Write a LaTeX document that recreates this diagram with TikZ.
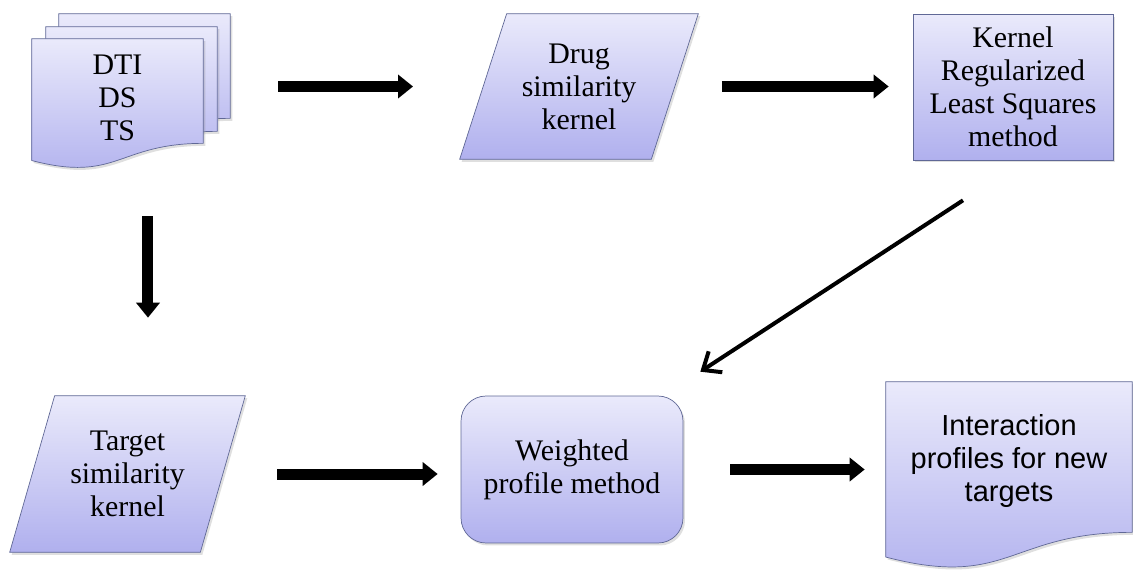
\documentclass[tikz,border=0pt]{standalone}
\usepackage{fontspec}
\setmainfont{Liberation Serif}
\setsansfont{Liberation Sans}
\usetikzlibrary{calc,shapes,arrows.meta,shadows,backgrounds,positioning}
\definecolor{boxtop}{RGB}{234,234,251}
\definecolor{boxbot}{RGB}{176,176,238}
\definecolor{boxline}{RGB}{96,104,150}

% page with a wavy bottom edge, drawn under node #1
% #2 = nominal height, #3 = how far the wave starts above the node's bottom
\newcommand{\docshape}[3]{%
  \path[box] (#1.north west) -- (#1.north east) -- ([yshift=#3]#1.south east)
    .. controls ([yshift=#3]#1.south) and ([yshift=#3-0.305*#2]#1.south)
    .. ([yshift=#3-0.132*#2]#1.south west) -- cycle;}
% slanted box under node #1, #2 = horizontal offset of the top edge
\newcommand{\slantshape}[2]{%
  \path[box] (#1.south west) -- ([xshift=#2]#1.north west) -- (#1.north east)
    -- ([xshift=-#2]#1.south east) -- cycle;}

\begin{document}
\begin{tikzpicture}[x=0.02cm,y=-0.02cm]
\fontsize{17}{18.8}\selectfont
\tikzstyle{box}=[draw=boxline, thin, top color=boxtop, bottom color=boxbot, align=center, inner sep=0pt,
  drop shadow={opacity=0.25, shadow xshift=0.04cm, shadow yshift=-0.05cm}]
\tikzstyle{plain}=[inner sep=0pt, align=center]
\tikzstyle{page}=[plain, minimum width=3.42cm, minimum height=2.36cm]
\tikzstyle{fat}=[line width=0.22cm, -{Triangle[length=0.3cm,width=0.46cm]}]
\tikzstyle{slim}=[line width=0.08cm, -{Straight Barb[length=0.3cm,width=0.5cm]}]

\useasboundingbox (0,0) rectangle (1133,572);

% top row
\node[page] (data) at (117.5,98) {DTI\\DS\\TS};
\foreach \i/\dx/\dy in {3/27/25, 2/14/12}
    \node[page] (data\i) at (117.5+\dx,98-\dy) {};
\node[plain, minimum width=4.76cm, minimum height=2.9cm] (drug) at (579,86.5) {Drug\\similarity\\kernel};
\node[box, minimum width=4cm, minimum height=2.92cm] (krls) at (1013,87) {Kernel\\Regularized\\Least Squares\\method};

% bottom row
\node[plain, minimum width=4.7cm, minimum height=3.12cm] (target) at (127.5,474) {Target\\similarity\\kernel};
\node[box, rounded corners=0.5cm, minimum width=4.44cm, minimum height=2.94cm] (weighted) at (572,469.5) {Weighted\\profile method};
\node[page, minimum width=4.92cm, minimum height=3.16cm, font=\sffamily\fontsize{16.5}{18.8}\selectfont] (result) at (1009,461) {Interaction\\profiles for new\\targets};

\begin{scope}[on background layer]
\foreach \p in {data3,data2,data}
   {\docshape{\p}{2.6cm}{0.28cm}}
\docshape{result}{3.74cm}{0.16cm}
\slantshape{drug}{0.94cm}
\slantshape{target}{0.9cm}
\end{scope}

% arrows
\draw[fat, shorten <=1.5cm, shorten >=3.32cm] (data.east |- drug.center) -- (drug.center);
\draw[fat, shorten <=2.86cm, shorten >=0.48cm] (drug.center) -- (drug.center -| krls.west);
\draw[fat, shorten <=1.18cm, shorten >=1.56cm] ([xshift=0.61cm]data.south) -- ([xshift=0.61cm]data.south |- target.north);
\draw[slim] ([xshift=-1cm,yshift=-0.8cm]krls.south) -- ([xshift=0.34cm,yshift=0.48cm]weighted.north east);
\draw[fat, shorten <=3cm, shorten >=0.46cm] (target.center) -- (target.center -| weighted.west);
\draw[fat, shorten <=0.94cm, shorten >=0.42cm] (weighted.east) -- (weighted.east -| result.west);
\end{tikzpicture}
\end{document}
